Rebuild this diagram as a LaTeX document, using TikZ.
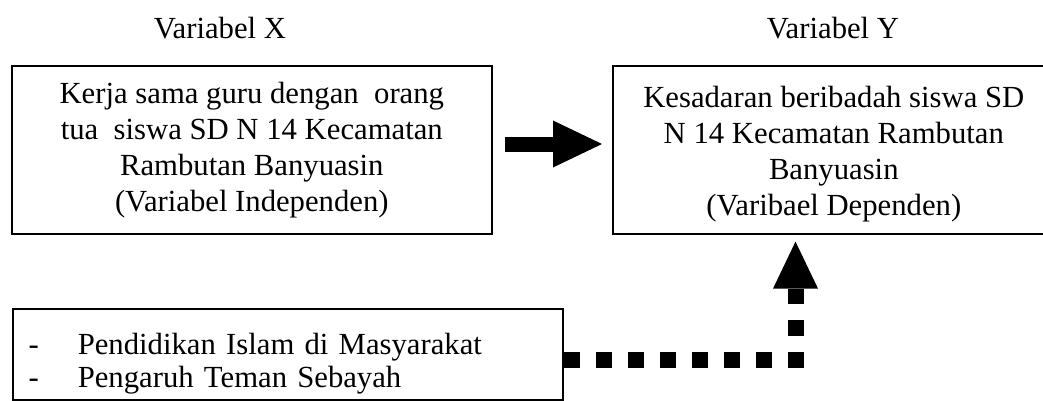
\documentclass[tikz,border=0pt]{standalone}
\usepackage{fontspec}
\setmainfont{Liberation Serif}
\usetikzlibrary{arrows.meta}
\begin{document}
\begin{tikzpicture}[x=1pt,y=-1pt,
  every node/.style={inner sep=0pt},
  boxnode/.style={draw=black, line width=1.6pt, align=center,
    font=\fontsize{30.7pt}{36pt}\selectfont},
  titlenode/.style={font=\fontsize{30.7pt}{36pt}\selectfont, anchor=base},
  bigarrow/.style={line width=15pt,
    -{Triangle[width=47pt,length=49pt,line width=0pt]}},
  dotarrow/.style={line width=16pt, dash pattern=on 16pt off 16pt,
    -{Triangle[width=45pt,length=47pt,line width=0pt]}}
]
\useasboundingbox (0,0) rectangle (1043,401);
\clip (0,0) rectangle (1043,401);

\node[titlenode] (tx) at (220,39) {Variabel X};
\node[titlenode] (ty) at (833,39) {Variabel Y};

\node[boxnode, minimum width=480pt, minimum height=168pt, anchor=north west]
  (xbox) at (11,65) {Kerja sama guru dengan\ \ orang\\tua\ \ siswa SD N 14 Kecamatan\\Rambutan Banyuasin\\(Variabel Independen)};

\node[boxnode, minimum width=442pt, minimum height=168pt, anchor=north west]
  (ybox) at (612,65) {\rule{0pt}{29pt}Kesadaran beribadah siswa SD\\N 14 Kecamatan Rambutan\\Banyuasin\\(Varibael Dependen)};

\node[boxnode, minimum width=550pt, minimum height=91pt, anchor=north west, align=left, text width=530pt]
  (zbox) at (12,308) {\rule{0pt}{40pt}\hspace*{6pt}\makebox[10pt][c]{-}\hspace*{39pt}Pendidikan Islam di Masyarakat\\[-3pt]
  \hspace*{6pt}\makebox[10pt][c]{-}\hspace*{39pt}Pengaruh Teman Sebayah};

\draw[bigarrow, shorten <=12pt, shorten >=10pt] (xbox.east |- 0,144) -- (ybox.west |- 0,144);

\coordinate (corner) at (795.5,360);
\draw[dotarrow, shorten >=7pt] (zbox.east |- corner) -- (corner) -- (corner |- ybox.south);
\end{tikzpicture}
\end{document}
